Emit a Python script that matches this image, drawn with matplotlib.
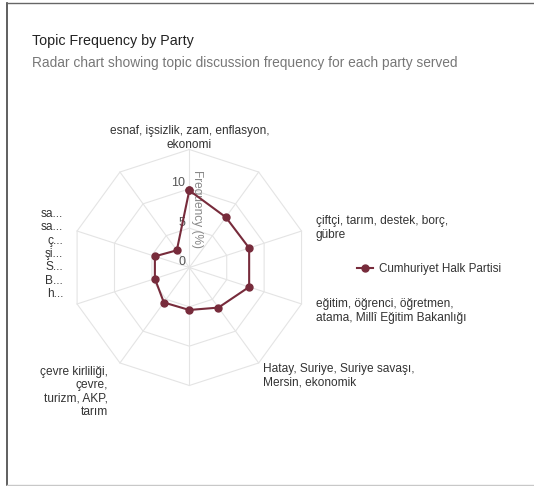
import numpy as np
import matplotlib
matplotlib.use("Agg")
import matplotlib.pyplot as plt
from matplotlib.lines import Line2D

plt.rcParams['font.family'] = ['Liberation Sans', 'DejaVu Sans']

# ---- data ----
topics = [
    "esnaf, işsizlik, zam, enflasyon,\nekonomi",
    "",
    "çiftçi, tarım, destek, borç,\ngübre",
    "eğitim, öğrenci, öğretmen,\natama, Millî Eğitim Bakanlığı",
    "Hatay, Suriye, Suriye savaşı,\nMersin, ekonomik",
    "",
    "çevre kirliliği,\nçevre,\nturizm, AKP,\ntarım",
    "",
    "sa...\nsa...\nç...\nşi...\nS...\nB...\nh...",
    "",
]
party = "Cumhuriyet Halk Partisi"
frequency = [9.8, 7.9, 8.0, 8.0, 6.3, 5.4, 5.5, 4.6, 4.6, 2.7]
tick_values = [0, 5, 10]
ring_values = [5, 10, 15]
r_max = 15

# ---- style ----
W, H = 534, 486
line_color = "#772b3b"
grid_color = "#e4e4e4"

fig = plt.figure(figsize=(W / 100, H / 100), dpi=100)
fig.patch.set_facecolor("white")

# card border
fig.add_artist(Line2D([6.5 / W, 6.5 / W], [1 - 3.5 / H, 1 - 484.5 / H], color="#444444", lw=1.2, transform=fig.transFigure))
fig.add_artist(Line2D([6.5 / W, 1.0], [1 - 3.5 / H, 1 - 3.5 / H], color="#666666", lw=1.0, transform=fig.transFigure))
fig.add_artist(Line2D([6.5 / W, 1.0], [1 - 484.5 / H, 1 - 484.5 / H], color="#c8c8c8", lw=1.0, transform=fig.transFigure))

# titles
fig.text(32 / W, 1 - 41 / H, "Topic Frequency by Party", fontsize=10.3, color="#222222",
         ha="left", va="center", fontweight="medium")
fig.text(32 / W, 1 - 63.5 / H, "Radar chart showing topic discussion frequency for each party served",
         fontsize=9.9, color="#777777", ha="left", va="center")

# polar axes
cx, cy, R = 189.3, 267.5, 118
ax = fig.add_axes([(cx - R) / W, 1 - (cy + R) / H, 2 * R / W, 2 * R / H], projection="polar")
ax.set_theta_zero_location("N")
ax.set_theta_direction(-1)
ax.set_ylim(0, r_max)
ax.axis("off")

n = len(topics)
theta = np.arange(n) * 2 * np.pi / n
theta_closed = np.append(theta, theta[0])

for rv in ring_values:
    ax.plot(theta_closed, [rv] * (n + 1), color=grid_color, lw=0.8, zorder=1, clip_on=False)
for t in theta:
    ax.plot([t, t], [0, r_max], color=grid_color, lw=0.8, zorder=1, clip_on=False)

vals = np.append(frequency, frequency[0])
ax.plot(theta_closed, vals, color=line_color, lw=1.5, marker="o", markersize=5,
        zorder=3, clip_on=False, label=party)

# tick labels
for tv in tick_values:
    ax.annotate(str(tv), xy=(0, tv), xytext=(-4, 5.5), textcoords="offset pixels",
                ha="right", va="center", fontsize=9, color="#555555", zorder=2)

# axis title
ax.annotate("Frequency (%)", xy=(0, 7.5), xytext=(7.5, 0), textcoords="offset pixels",
            ha="center", va="center", rotation=270, fontsize=8.6, color="#888888", zorder=2)

# point labels: (ha, va, dx, dy) in pixels relative to outer vertex
label_layout = {
    0: ("center", "bottom", 0, -1),
    2: ("left", "center", 14, 3),
    3: ("left", "center", 14, -7),
    4: ("left", "top", 4, 0),
    6: ("right", "top", -12, -3),
    8: ("right", "center", -14, -23),
}
for i, txt in enumerate(topics):
    if not txt or i not in label_layout:
        continue
    ha, va, dx, dy = label_layout[i]
    ax.annotate(txt, xy=(theta[i], r_max), xytext=(dx, dy), textcoords="offset pixels",
                ha=ha, va=va, ma=ha if ha != "center" else "center",
                fontsize=8.6, color="#333333", linespacing=1.15, annotation_clip=False)

# legend
handle = Line2D([0], [0], color=line_color, lw=1.5, marker="o", markersize=5)
fig.legend([handle], [party], loc="center left", bbox_to_anchor=(346 / W, 1 - 269 / H),
           frameon=False, fontsize=8.4, handlelength=1.4, handletextpad=0.5, labelcolor="#333333")

fig.savefig("out.png", dpi=100, facecolor="white")
